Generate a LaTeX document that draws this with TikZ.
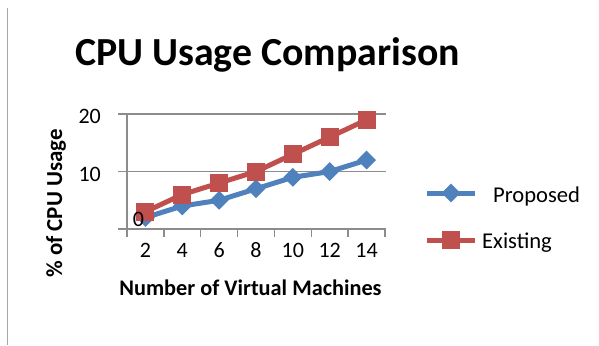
\documentclass[tikz,border=0pt]{standalone}
\usepackage{fontspec}
\setmainfont{Carlito}
\usetikzlibrary{shapes.geometric}
\definecolor{serA}{HTML}{4F81BD}
\definecolor{serB}{HTML}{C0504D}
\definecolor{gridc}{HTML}{8C8C8C}
\definecolor{framec}{HTML}{A6A6A6}
\tikzset{
  gridline/.style={draw=gridc, line width=1.3pt},
  ticklbl/.style={inner sep=0pt, font=\fontsize{22}{22}\selectfont},
  axtitle/.style={inner sep=0pt, font=\bfseries\fontsize{22.3}{22}\selectfont},
  legtext/.style={inner sep=0pt, anchor=base west, font=\fontsize{22.6}{22}\selectfont},
  serline/.style={line width=5pt, line join=round, line cap=round},
  dmark/.style={diamond, fill=serA, inner sep=0pt, minimum width=19pt, minimum height=19pt},
  smark/.style={rectangle, fill=serB, inner sep=0pt, minimum width=18pt, minimum height=18pt},
}
\begin{document}
\begin{tikzpicture}[x=1pt, y=-1pt]
\useasboundingbox (0,0) rectangle (599,345);
% frame edge on the left
\draw[framec, line width=1.5pt] (7.5,8) -- (7.5,345);
% title
\node[inner sep=0pt, font=\bfseries\fontsize{39.8}{40}\selectfont] (title) at (267.5,55) {CPU Usage Comparison};
% gridlines and axes
\draw[gridline] (118,114) -- (386,114);
\draw[gridline] (118,171.7) -- (386,171.7);
\draw[gridline] (118,229) -- (386,229);
\draw[gridline] (127,114) -- (127,237);
\foreach \i in {1,...,7} {
  \draw[gridline] ({127+36.857*\i},229) -- ({127+36.857*\i},237);
}
% y tick labels
\node[ticklbl, anchor=east] (y20) at (101,116) {20};
\node[ticklbl, anchor=east] (y10) at (101,174) {10};
% x tick labels
\foreach \v [count=\i] in {2,4,6,8,10,12,14} {
  \node[ticklbl] (x\i) at ({127+36.857*(\i-0.5)},250.5) {\v};
}
% data series
\def\yy#1{229-5.745*#1}
\foreach \v [count=\i] in {2,4,5,7,9,10,12} {
  \coordinate (p\i) at ({127+36.857*(\i-0.5)},{\yy{\v}});
}
\foreach \v [count=\i] in {3,6,8,10,13,16,19} {
  \coordinate (e\i) at ({127+36.857*(\i-0.5)},{\yy{\v}});
}
\draw[serline, serA] (p1) -- (p2) -- (p3) -- (p4) -- (p5) -- (p6) -- (p7);
\foreach \i in {1,...,7} { \node[dmark] (pm\i) at (p\i) {}; }
\draw[serline, serB] (e1) -- (e2) -- (e3) -- (e4) -- (e5) -- (e6) -- (e7);
\foreach \i in {1,...,7} { \node[smark] (em\i) at (e\i) {}; }
% zero label sits over the plot
\node[ticklbl] (y0) at (138.5,219.5) {0};
% axis titles
\node[axtitle] (xt) at (250.5,288) {Number of Virtual Machines};
\node[axtitle, rotate=90, font=\bfseries\fontsize{22.9}{22}\selectfont] (yt) at (56,203.5) {\% of CPU Usage};
% legend
\coordinate (la1) at (427,193);
\coordinate (lb1) at (475,193);
\draw[serline, serA, line cap=butt] (la1) -- (lb1);
\node[dmark] (lm1) at (451,193) {};
\node[legtext] (lt1) at (493,202) {Proposed};
\coordinate (la2) at (427,240);
\coordinate (lb2) at (475,240);
\draw[serline, serB, line cap=butt] (la2) -- (lb2);
\node[smark] (lm2) at (451,240) {};
\node[legtext] (lt2) at (482,248) {Existing};
\end{tikzpicture}
\end{document}
